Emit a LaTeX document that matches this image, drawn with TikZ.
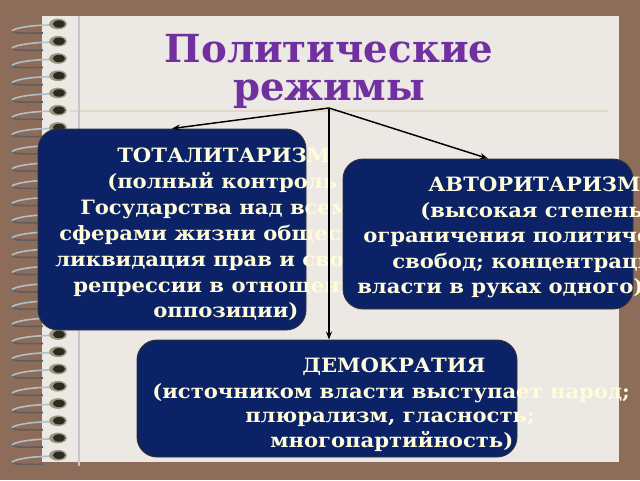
\documentclass[tikz,border=0pt]{standalone}
\usepackage{fontspec}
\setmainfont{DejaVu Serif}
\newfontfamily\boxfont[FakeStretch=1.07]{DejaVu Serif}
\usetikzlibrary{arrows.meta}
\definecolor{frame}{HTML}{8E6C5A}
\definecolor{paper}{HTML}{ECE8E4}
\definecolor{navy}{HTML}{0B2266}
\definecolor{cream}{HTML}{FFFCDC}
\definecolor{titlec}{HTML}{7030A0}
\definecolor{margin}{HTML}{C6C6CC}
\definecolor{rule}{HTML}{E2D9C8}
\definecolor{wireup}{HTML}{AFC0C8}
\definecolor{wirelow}{HTML}{5E5E5E}
\definecolor{holeout}{HTML}{9A9680}
\definecolor{holein}{HTML}{2C2B22}
\tikzset{
  regbox/.style={draw=black!80, line width=0.7pt, fill=navy, rounded corners=15pt, inner sep=0pt},
  ln/.style={anchor=base west, inner sep=0pt, text=cream, font=\boxfont\fontsize{14.8pt}{17pt}\selectfont\bfseries},
  ttl/.style={anchor=base, inner sep=0pt, text=titlec, font=\fontsize{29pt}{32pt}\selectfont\bfseries},
  conn/.style={line width=1.1pt, -{Stealth[length=6pt,width=4.5pt]}},
}
\begin{document}
\begin{tikzpicture}[x=0.75pt,y=-0.75pt]
\useasboundingbox (0,0) rectangle (640,480);
% background and page
\fill[frame] (0,0) rectangle (640,480);
\fill[paper] (42,16) rectangle (619,462);
\draw[rule, line width=1pt] (70,111) -- (608,111);
\draw[margin, line width=1.5pt] (79,16) -- (79,466);
% spiral
\foreach \i in {0,...,25}{
  \pgfmathsetmacro{\yy}{24+17.25*\i}
  \draw[wirelow, line width=1.2pt] (12,\yy+7) .. controls (14,\yy+10) and (30,\yy+9) .. (43,\yy+9);
  \draw[wireup, line width=1.2pt] (51,\yy+1) .. controls (32,\yy+1) and (14,\yy+4) .. (12,\yy+7);
  \fill[holeout] (58,\yy) ellipse (6.6pt and 4pt);
  \fill[holein] (59,\yy) ellipse (4.6pt and 2.8pt);
}
% title
\node[ttl] (t1) at (329,62) {Политические};
\node[ttl] (t2) at (329,100) {режимы};
\coordinate (src) at (329,108);
% box 1
\node[regbox, minimum width=201pt, minimum height=150.75pt] (b1) at (172,229.5) {};
\node[ln] (b1l1) at (117,162) {ТОТАЛИТАРИЗМ};
\node[ln] (b1l2) at (107,188) {(полный контроль};
\node[ln] (b1l3) at (80,214) {Государства над всеми};
\node[ln] (b1l4) at (59,240) {сферами жизни общества;};
\node[ln] (b1l5) at (55,266) {ликвидация прав и свобод;};
\node[ln] (b1l6) at (73,292) {репрессии в отношении};
\node[ln] (b1l7) at (153,317) {оппозиции)};
% box 2
\node[regbox, minimum width=217.5pt, minimum height=112.5pt] (b2) at (488,234) {};
\node[ln] (b2l1) at (428,191) {АВТОРИТАРИЗМ};
\node[ln] (b2l2) at (420,217) {(высокая степень};
\node[ln] (b2l3) at (363,242) {ограничения политических};
\node[ln] (b2l4) at (392,268) {свобод; концентрация};
\node[ln] (b2l5) at (357,293) {власти в руках одного)};
% box 3
\node[regbox, minimum width=285pt, minimum height=87.75pt] (b3) at (327,398.5) {};
\node[ln] (b3l1) at (302,372) {ДЕМОКРАТИЯ};
\node[ln] (b3l2) at (152,398) {(источником власти выступает народ;};
\node[ln] (b3l3) at (245,422) {плюрализм, гласность;};
\node[ln] (b3l4) at (270,447) {многопартийность)};
% connectors
\draw[conn] (src) -- (b1.north);
\draw[conn] (src) -- (b2.north);
\draw[conn] (src) -- (src |- b3.north);
\end{tikzpicture}
\end{document}
